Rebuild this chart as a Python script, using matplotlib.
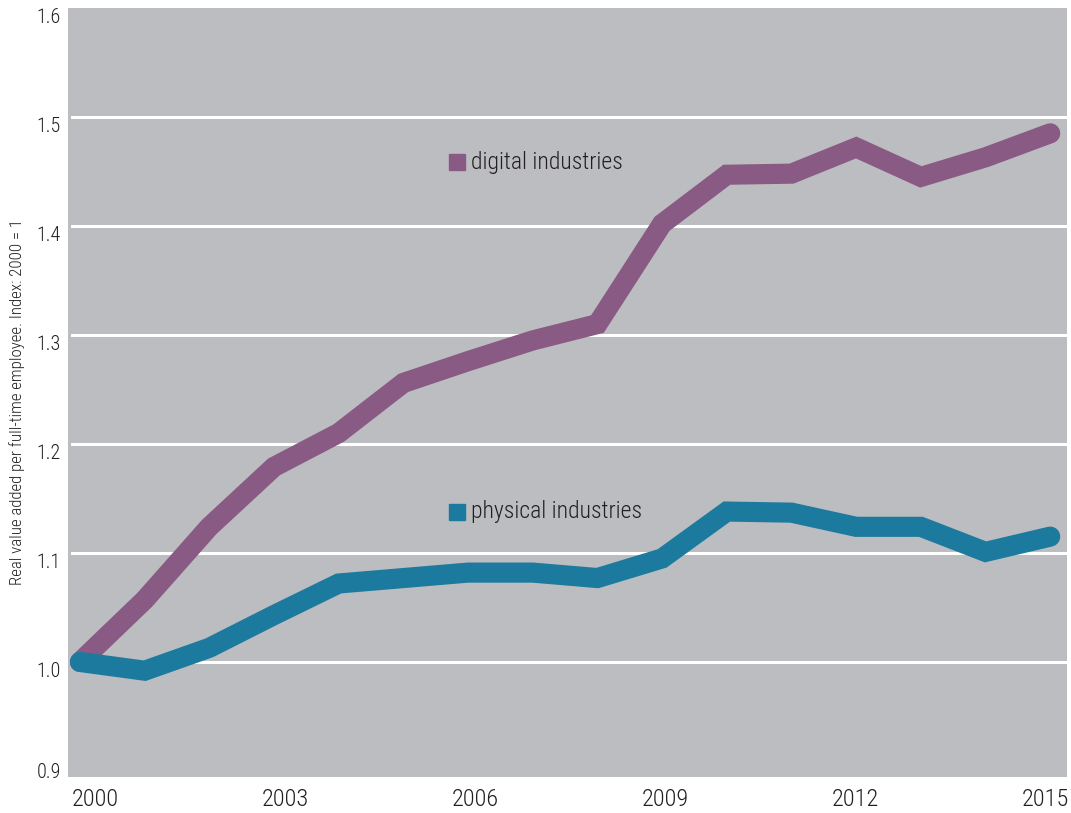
import matplotlib
matplotlib.use("Agg")
import matplotlib.pyplot as plt
from matplotlib import font_manager

# productivity index, 2000 = 1
years = list(range(2000, 2016))
digital = [1.000, 1.057, 1.124, 1.179, 1.210, 1.256, 1.276, 1.295,
           1.310, 1.402, 1.447, 1.448, 1.472, 1.445, 1.463, 1.485]
physical = [1.000, 0.992, 1.013, 1.043, 1.072, 1.077, 1.082, 1.082,
            1.077, 1.095, 1.138, 1.137, 1.124, 1.124, 1.101, 1.115]

x_labels = ['2000', '2003', '2006', '2009', '2012', '2015']
y_ticks = [0.9, 1.0, 1.1, 1.2, 1.3, 1.4, 1.5, 1.6]
grid_values = [1.0, 1.1, 1.2, 1.3, 1.4, 1.5]

purple = '#895a83'
teal = '#1c7a9e'
bg = '#bcbdc0'
ink = '#231f20'

# pick a narrow font if one is around
fonts = font_manager.fontManager.ttflist
names = set(f.name for f in fonts)
stretch = 'normal'
if 'Liberation Sans Narrow' in names:
    family = 'Liberation Sans Narrow'
elif 'Roboto Condensed' in names:
    family = 'Roboto Condensed'
elif any(f.name == 'DejaVu Sans' and f.stretch == 'condensed' for f in fonts):
    family = 'DejaVu Sans'
    stretch = 'condensed'
elif 'Roboto' in names:
    family = 'Roboto'
else:
    family = 'DejaVu Sans'
font = dict(family=[family, 'DejaVu Sans'], stretch=stretch, color=ink,
            weight='light')

fig = plt.figure(figsize=(10.71, 8.13), dpi=100)
ax = fig.add_axes([0.0635, 0.0443, 0.9328, 0.9459])
ax.set_facecolor(bg)
for s in ax.spines.values():
    s.set_visible(False)

x0, x1 = 1999.815, 2015.26
ax.set_xlim(x0, x1)
ax.set_ylim(0.8945, 1.6)

# white gridlines
for g in grid_values:
    ax.axhline(g, xmin=0.004, xmax=1, color='white', lw=2.2, zorder=1)

# the two lines
ax.plot(years, digital, color=purple, lw=14.5, solid_capstyle='round',
        solid_joinstyle='miter', zorder=3)
ax.plot(years, physical, color=teal, lw=14.5, solid_capstyle='round',
        solid_joinstyle='miter', zorder=4)

# labels on the lines
ax.plot([0.389], [0.7997], marker='s', ms=12, color=purple,
        transform=ax.transAxes, clip_on=False, zorder=5)
ax.text(0.4034, 0.7997, 'digital industries', transform=ax.transAxes,
        ha='left', va='center', fontsize=17, **font)
ax.plot([0.389], [0.345], marker='s', ms=12, color=teal,
        transform=ax.transAxes, clip_on=False, zorder=5)
ax.text(0.4034, 0.345, 'physical industries', transform=ax.transAxes,
        ha='left', va='center', fontsize=17, **font)

# x labels are spread evenly across the plot width
n = len(x_labels)
fracs = [(27 + 190 * i) / 999 for i in range(n)]
ax.set_xticks([x0 + f * (x1 - x0) for f in fracs])
ax.set_xticklabels(x_labels, fontsize=17.5, **font)
ax.tick_params(axis='x', length=0, pad=8)

ax.set_yticks(y_ticks)
ax.set_yticklabels(['%.1f' % v for v in y_ticks], fontsize=14.5, **font)
ax.tick_params(axis='y', length=0, pad=5)
for lab in ax.get_yticklabels()[1:]:
    lab.set_verticalalignment('top')

fig.text(0.0159, 0.5055, 'Real value added per full-time employee. Index: 2000 = 1',
         rotation=90, ha='center', va='center', fontsize=12.2, **font)

fig.savefig('out.png', dpi=100, facecolor='white')
